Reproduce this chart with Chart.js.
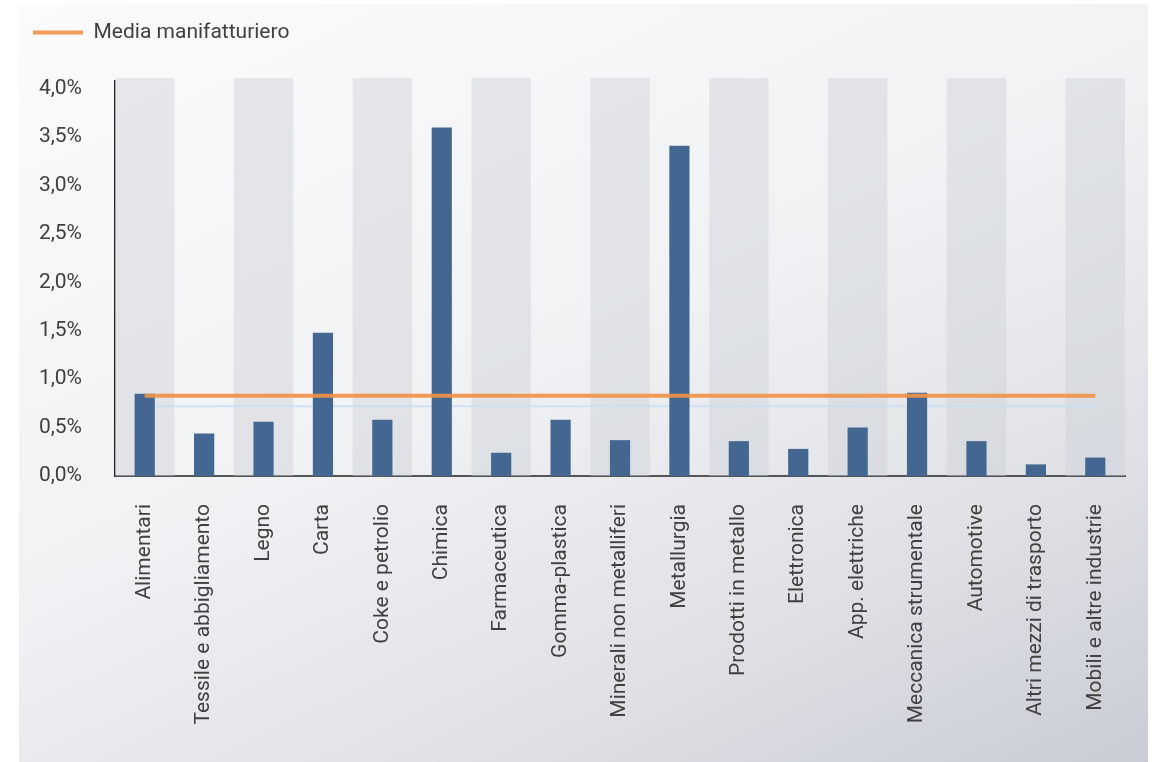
<!DOCTYPE html>
<html>
<head>
<meta charset="utf-8">
<script src="https://cdn.jsdelivr.net/npm/chart.js@4.4.1/dist/chart.umd.min.js"></script>
<style>
  html, body { margin: 0; padding: 0; background: #fff; }
  #panel { position: absolute; left: 19px; top: 4px; width: 1129px; height: 758px;
    background: linear-gradient(155deg, #fbfbfc 0%, #f1f2f4 45%, #dfe1e6 75%, #c9ccd4 100%); }
  #box { position: absolute; left: 0; top: 0; width: 1158px; height: 762px; }
</style>
</head>
<body>
<div id="panel"></div>
<div id="box"><canvas id="chart"></canvas></div>
<script>
// settori manifatturieri
const settori = ['Alimentari', 'Tessile e abbigliamento', 'Legno', 'Carta', 'Coke e petrolio', 'Chimica',
  'Farmaceutica', 'Gomma-plastica', 'Minerali non metalliferi', 'Metallurgia', 'Prodotti in metallo',
  'Elettronica', 'App. elettriche', 'Meccanica strumentale', 'Automotive', 'Altri mezzi di trasporto',
  'Mobili e altre industrie'];
const valori = [0.85, 0.44, 0.56, 1.48, 0.58, 3.60, 0.24, 0.58, 0.37, 3.41, 0.36, 0.28, 0.50, 0.86, 0.36, 0.12, 0.19];
const media = [0.83, 0.83, 0.83, 0.83, 0.83, 0.83, 0.83, 0.83, 0.83, 0.83, 0.83, 0.83, 0.83, 0.83, 0.83, 0.83, 0.83];
const ombra = [0.72, 0.72, 0.72, 0.72, 0.72, 0.72, 0.72, 0.72, 0.72, 0.72, 0.72, 0.72, 0.72, 0.72, 0.72, 0.72, 0.72];
const yTicks = [0, 0.5, 1.0, 1.5, 2.0, 2.5, 3.0, 3.5, 4.0];

const FONT = 'Roboto, "Noto Sans", sans-serif';
const TXT = '#404040';

// fasce grigie alternate dietro le colonne
const bande = {
  id: 'bande',
  beforeDatasetsDraw(chart) {
    const x = chart.scales.x, area = chart.chartArea, ctx = chart.ctx;
    const w = x.width / settori.length;
    ctx.save();
    ctx.fillStyle = 'rgba(205,208,216,0.45)';
    settori.forEach(function (s, i) {
      if (i % 2 !== 0) return;
      const c = x.getPixelForValue(i);
      ctx.fillRect(c - w / 2, area.top - 3, w, area.bottom - area.top + 3);
    });
    ctx.restore();
  }
};

// spazio extra sotto la legenda
const legendGap = {
  id: 'legendGap',
  afterInit(chart) {
    const lg = chart.legend;
    const fit = lg.fit;
    lg.fit = function () { fit.call(this); this.height += 28; };
  }
};

new Chart(document.getElementById('chart'), {
  data: {
    labels: settori,
    datasets: [
      { type: 'line', label: 'Media manifatturiero', data: media, borderColor: 'rgba(240,146,72,0.92)',
        backgroundColor: '#f0924a', borderWidth: 4, pointRadius: 0, order: 0 },
      { type: 'bar', label: 'Settori', data: valori, backgroundColor: '#436791',
        categoryPercentage: 1, barPercentage: 0.34, order: 1 },
      { type: 'line', label: 'ombra', data: ombra, borderColor: 'rgba(196,222,245,0.8)',
        borderWidth: 2, pointRadius: 0, order: 2 }
    ]
  },
  options: {
    responsive: true, maintainAspectRatio: false, animation: false,
    layout: { padding: { left: 23, right: 33, top: 12, bottom: 0 } },
    plugins: {
      tooltip: { enabled: false },
      legend: {
        display: true, position: 'top', align: 'start',
        labels: {
          filter: function (item) { return item.text === 'Media manifatturiero'; },
          usePointStyle: true, pointStyle: 'line', pointStyleWidth: 50,
          padding: 10, color: TXT, font: { family: FONT, size: 21 }
        }
      }
    },
    scales: {
      x: {
        grid: { display: false },
        border: { display: true, color: '#555', width: 2 },
        ticks: { minRotation: 90, maxRotation: 90, autoSkip: false, padding: 20,
          color: TXT, font: { family: FONT, size: 21 } },
        afterFit: function (s) { s.height = 286; }
      },
      y: {
        min: 0, max: 4.08,
        grid: { display: false },
        border: { display: true, color: '#222', width: 1.5 },
        ticks: { stepSize: 0.5, padding: 25, color: TXT, font: { family: FONT, size: 21 },
          callback: function (v) { return v.toFixed(1).replace('.', ',') + '%'; } },
        afterBuildTicks: function (s) { s.ticks = yTicks.map(function (v) { return { value: v }; }); },
        afterFit: function (s) { s.width = 92; }
      }
    }
  },
  plugins: [bande, legendGap]
});
</script>
</body>
</html>
